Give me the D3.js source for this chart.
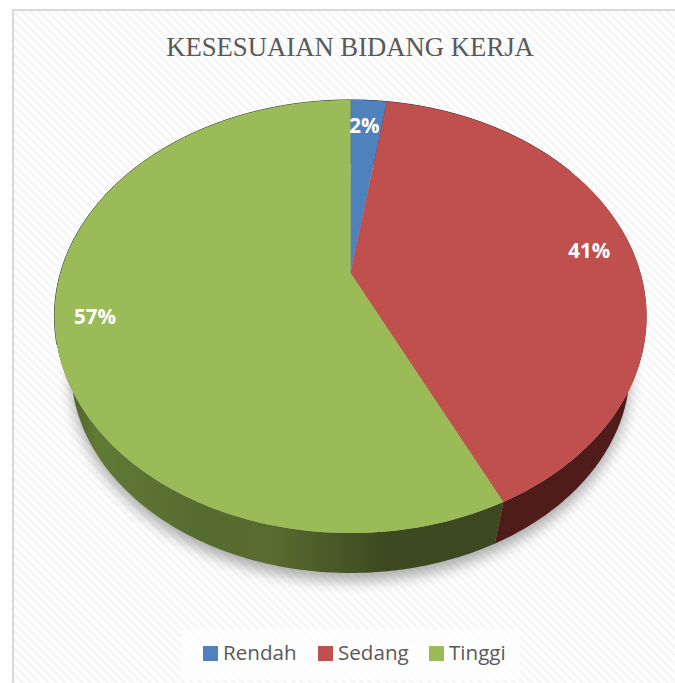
<!DOCTYPE html>
<html><head><meta charset="utf-8">
<script src="https://cdn.jsdelivr.net/npm/d3@7/dist/d3.min.js"></script>
<style>html,body{margin:0;padding:0;background:#fff}svg{display:block}</style>
</head><body><svg id="c" width="675" height="683"></svg>
<script>
const categories = ["Rendah", "Sedang", "Tinggi"];
const values = [2.4, 40.5, 57.1];
const labels = ["2%", "41%", "57%"];
const colors = ["#4f81bd", "#c0504d", "#9bbb59"];
const sideColors = ["#27405e", "#4f1c1a", "#3d4a21"];
const title = "KESESUAIAN BIDANG KERJA";

const svg = d3.select("#c");
const defs = svg.append("defs");

const pat = defs.append("pattern").attr("id","stripes").attr("width",6).attr("height",6)
  .attr("patternUnits","userSpaceOnUse").attr("patternTransform","rotate(-45)");
pat.append("rect").attr("width",6).attr("height",6).attr("fill","#ffffff");
pat.append("rect").attr("width",3).attr("height",6).attr("fill","#f6f6f6");

svg.append("rect").attr("x",13).attr("y",10).attr("width",668).attr("height",680)
  .attr("fill","url(#stripes)").attr("stroke","#d9d9d9").attr("stroke-width",2);

svg.append("text").attr("x",350).attr("y",56).attr("text-anchor","middle")
  .attr("font-family","Liberation Serif").attr("font-size",26.7).attr("fill","#595959").text(title);

// perspective pie geometry
const apex = {x:350.5, y:273}, a = 290, b = 207.8, k = -0.2009;
const project = (t, s=1, oy=0) => {
  const u = Math.sin(t), v = -Math.cos(t), d = 1 + k*v;
  return [apex.x + s*a*u/d, apex.y + oy + s*b*v/d];
};
const pie = d3.pie().sort(null).value(d=>d);
const arcs = pie(values);
const line = d3.line();
const samples = (t0,t1) => d3.range(0,181).map(i=>t0+(t1-t0)*i/180);

const s2 = 0.944, oy2 = 54.5;
const upper = (t)=>project(t);
const lower = (t)=>project(t,s2,oy2);

// soft shadow
const blur = defs.append("filter").attr("id","sh").attr("x","-10%").attr("y","-10%").attr("width","120%").attr("height","120%");
blur.append("feGaussianBlur").attr("stdDeviation",7);
svg.append("path").attr("d",line(samples(0,2*Math.PI).map(t=>{const p=lower(t);return [p[0],p[1]+8];}))+"Z")
  .attr("fill","#808080").attr("opacity",.65).attr("filter","url(#sh)");

// side wall gradient for the large slice
const g = defs.append("linearGradient").attr("id","gside").attr("gradientUnits","userSpaceOnUse")
  .attr("x1",70).attr("x2",510).attr("y1",0).attr("y2",0);
[[0,"#4e6128"],[0.06,"#617a36"],[0.3,"#566b2f"],[0.46,"#586c30"],[0.62,"#465626"],[0.72,"#3d4a21"],[1,"#3b4820"]]
  .forEach(([o,c])=>g.append("stop").attr("offset",o).attr("stop-color",c));

// walls: lower outline joined with upper outline
arcs.forEach((d,i)=>{
  const ts = samples(d.startAngle,d.endAngle);
  const pts = ts.map(lower).concat(ts.slice().reverse().map(upper));
  svg.append("path").attr("d",line(pts)+"Z")
    .attr("fill", i===2 ? "url(#gside)" : sideColors[i]);
});

// top edge dark hairline (upper-left rim)
svg.append("path").attr("d",line(samples(-1.9,1.0).map(upper)))
  .attr("fill","none").attr("stroke","#333").attr("stroke-width",1);

// top faces
arcs.forEach((d,i)=>{
  const pts = [[apex.x,apex.y]].concat(samples(d.startAngle,d.endAngle).map(upper));
  svg.append("path").attr("d",line(pts)+"Z").attr("fill",colors[i]);
});

// data labels
const labelRadius = [0.85, 0.857, 0.86], labelDx = [-1.5, 0, -1], labelDy = [0, 3.5, 2];
arcs.forEach((d,i)=>{
  const mid=(d.startAngle+d.endAngle)/2;
  const p=project(mid, labelRadius[i]);
  svg.append("text").attr("x",p[0]+labelDx[i]).attr("y",p[1]+labelDy[i]).attr("text-anchor","middle").attr("dy","0.35em")
    .attr("font-family","Open Sans").attr("font-weight",700).attr("font-size",20.5).attr("fill","#fff").text(labels[i]);
});

// legend
svg.append("rect").attr("x",181).attr("y",630).attr("width",339).attr("height",50).attr("fill","#fff").attr("opacity",.8);
const lx = d3.scaleOrdinal().domain(categories).range([203,318,429]);
const leg = svg.selectAll("g.leg").data(categories).join("g").attr("class","leg")
  .attr("transform",d=>`translate(${lx(d)},646)`);
leg.append("rect").attr("width",15).attr("height",15).attr("fill",(d,i)=>colors[i]);
leg.append("text").attr("x",20).attr("y",14).attr("font-family","Open Sans").attr("font-size",20.6).attr("fill","#595959").text(d=>d);
</script></body></html>
